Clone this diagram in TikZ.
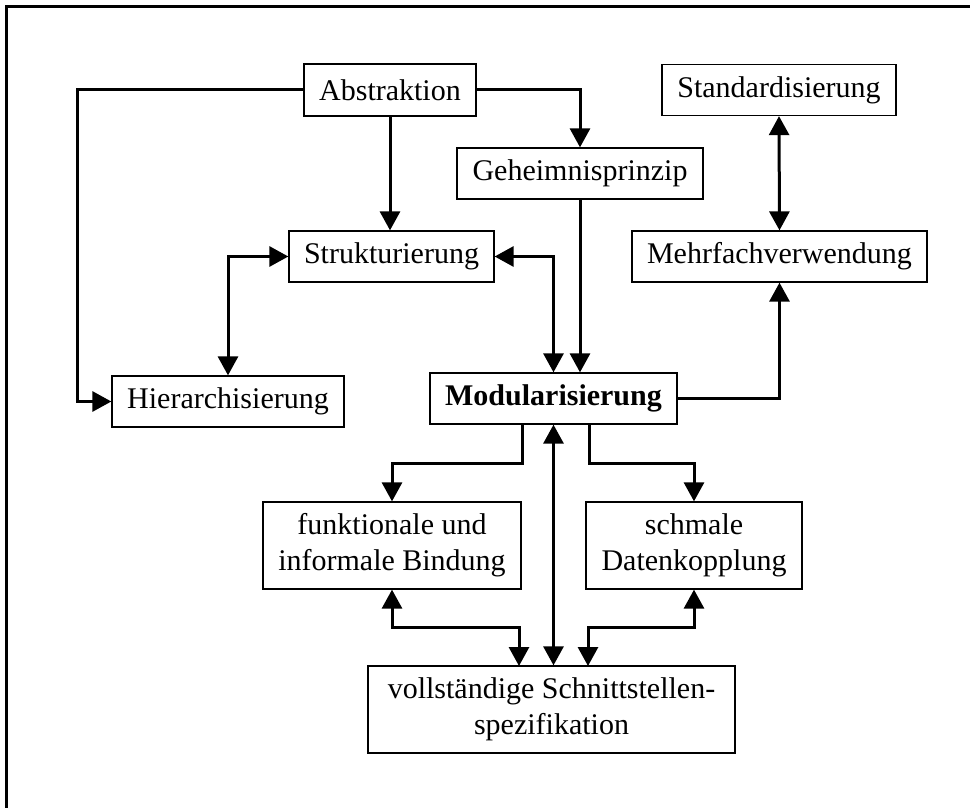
\documentclass[tikz,border=0pt]{standalone}
\usepackage{fontspec}
\setmainfont{Liberation Serif}
\usetikzlibrary{arrows.meta}
\begin{document}
\begin{tikzpicture}[x=1pt,y=-1pt,
  box/.style={draw, line width=1.3pt, inner sep=0pt, align=center,
    font=\fontsize{30}{36}\selectfont},
  conn/.style={line width=3pt},
  tip/.style={},
  arr/.style={conn, -{Triangle[length=19pt,width=20pt]}},
  darr/.style={conn, {Triangle[length=19pt,width=20pt]}-{Triangle[length=19pt,width=20pt]}}]
\useasboundingbox (0,0) rectangle (970,808);
\draw[line width=3pt] (6,808) -- (6,6.5) -- (970,6.5);
% nodes
\node[box, minimum width=172pt, minimum height=52pt] (abs) at (390,90) {Abstraktion};
\node[box, minimum width=234pt, minimum height=51pt] (std) at (779,90) {Standardisierung};
\node[box, minimum width=246pt, minimum height=51pt] (geh) at (580,173.5) {Geheimnisprinzip};
\node[box, minimum width=205pt, minimum height=51pt] (str) at (391.5,256.5) {Strukturierung};
\node[box, minimum width=295pt, minimum height=51pt] (mehr) at (779.5,256.5) {Mehrfachverwendung};
\node[box, minimum width=232pt, minimum height=51pt] (hier) at (228,401.5) {Hierarchisierung};
\node[box, minimum width=247pt, minimum height=51pt] (mod) at (553.5,398.5) {\bfseries Modularisierung};
\node[box, minimum width=258pt, minimum height=87pt] (funk) at (392,545.5) {funktionale und\\informale Bindung};
\node[box, minimum width=216pt, minimum height=87pt] (sch) at (694,545.5) {schmale\\Datenkopplung};
\node[box, minimum width=367pt, minimum height=87pt] (voll) at (551.5,709.5) {vollständige Schnittstellen-\\spezifikation};
% helper coordinates
\coordinate (ml) at (522,424);
\coordinate (mr) at (589,424);
\coordinate (vl) at (519,666);
\coordinate (vr) at (588,666);
% connectors
\draw[arr] (abs.west) -- ++(-226,0) |- (hier.west);
\draw[arr] (abs.south) -- (abs.south |- str.north);
\draw[arr] (abs.east) -| (geh.north);
\draw[darr] (str.west) -| (hier.north);
\draw[darr] (str.east) -| (mod.north);
\draw[arr] (geh.south) -- (geh.south |- mod.north);
\draw[arr] (mod.east) -| (mehr.south);
\draw[darr] (std.south) -- (mehr.north);
\draw[arr] (ml) -- ++(0,39) -| (funk.north);
\draw[arr] (mr) -- ++(0,39) -| (sch.north);
\draw[darr] (mod.south) -- (mod.south |- voll.north);
\draw[darr] (funk.south) -- ++(0,38) -| (vl);
\draw[darr] (sch.south) -- ++(0,38) -| (vr);
\end{tikzpicture}
\end{document}
